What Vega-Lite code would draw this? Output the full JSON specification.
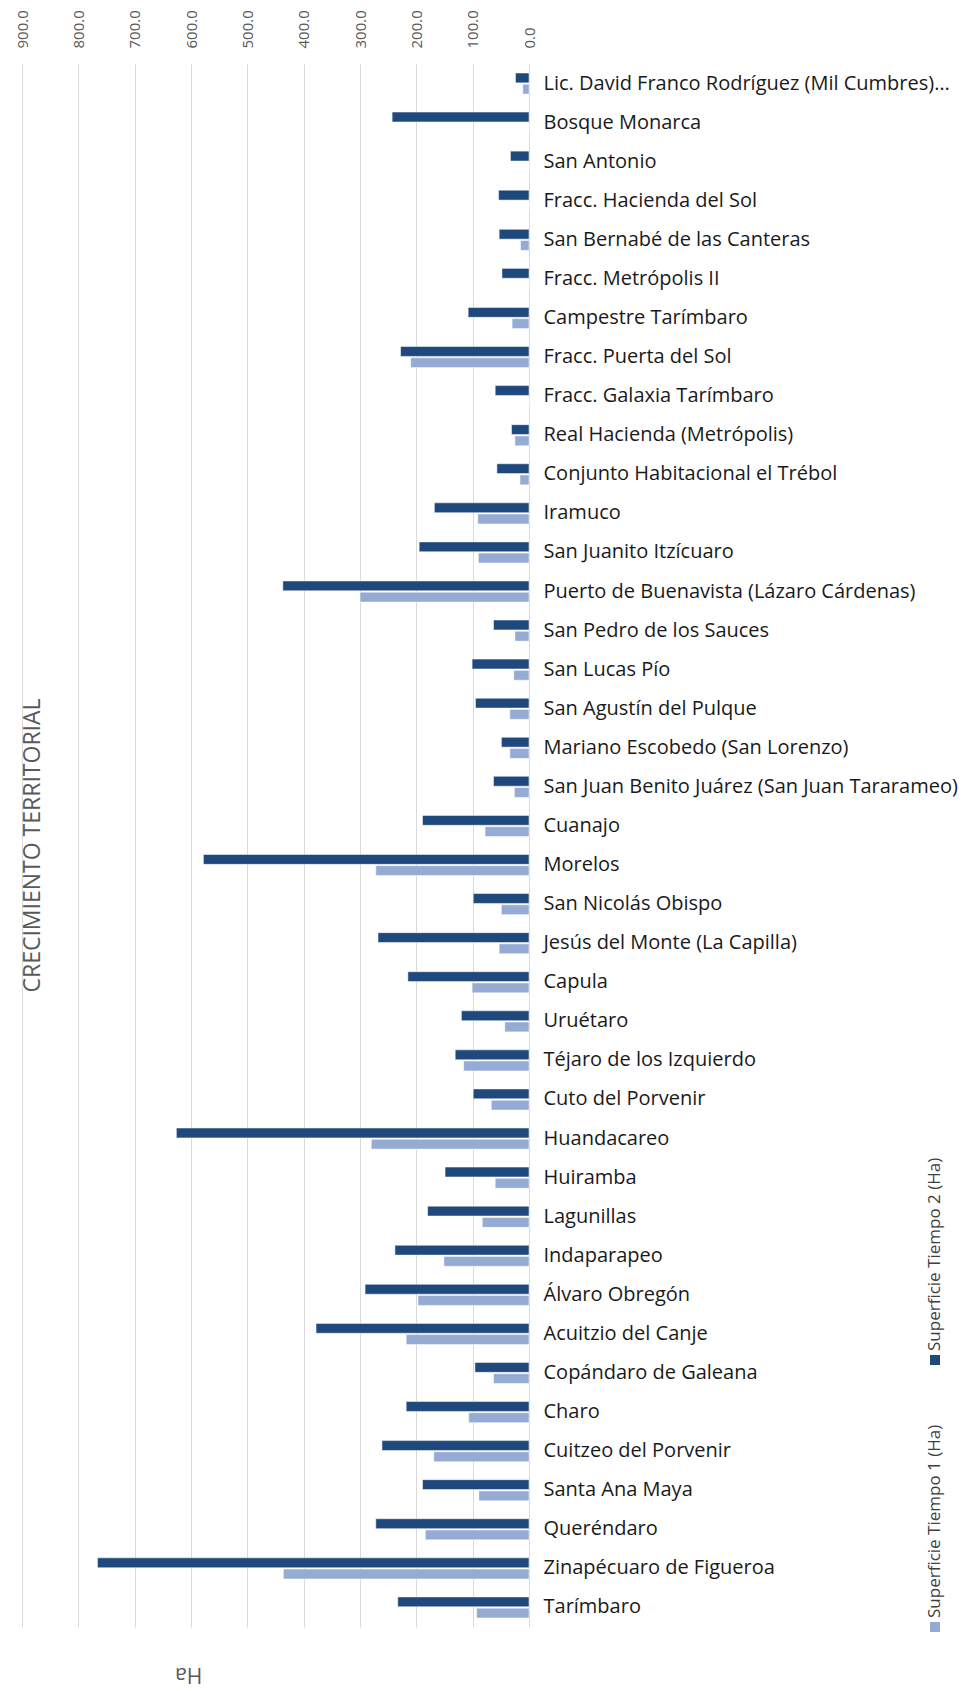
{
  "$schema": "https://vega.github.io/schema/vega-lite/v6.json",
  "background": "white",
  "padding": {"left": 14, "top": 9, "right": 0, "bottom": 4},
  "config": {"view": {"stroke": null}, "font": "Open Sans"},
  "bounds": "flush",
  "spacing": 399,
  "title": {"text": "Ha", "orient": "bottom", "anchor": "start", "angle": 180, "align": "right", "baseline": "middle", "offset": 42, "dx": -160, "fontSize": 21, "color": "#595959", "fontWeight": "normal"},
  "hconcat": [
    {
      "width": 507,
      "height": 1563,
      "title": {"text": "CRECIMIENTO TERRITORIAL", "orient": "left", "anchor": "middle", "offset": -30, "fontSize": 23, "fontWeight": "normal", "color": "#595959"},
      "data": {"values": [
        {"loc": "Lic. David Franco Rodríguez (Mil Cumbres)…", "t2": 24, "t1": 11},
        {"loc": "Bosque Monarca", "t2": 243, "t1": 0},
        {"loc": "San Antonio", "t2": 33, "t1": 0},
        {"loc": "Fracc. Hacienda del Sol", "t2": 54, "t1": 0},
        {"loc": "San Bernabé de las Canteras", "t2": 53, "t1": 15},
        {"loc": "Fracc. Metrópolis II", "t2": 48, "t1": 0},
        {"loc": "Campestre Tarímbaro", "t2": 108, "t1": 30},
        {"loc": "Fracc. Puerta del Sol", "t2": 228, "t1": 210},
        {"loc": "Fracc. Galaxia Tarímbaro", "t2": 60, "t1": 0},
        {"loc": "Real Hacienda (Metrópolis)", "t2": 31, "t1": 25},
        {"loc": "Conjunto Habitacional el Trébol", "t2": 57, "t1": 16},
        {"loc": "Iramuco", "t2": 168, "t1": 91},
        {"loc": "San Juanito Itzícuaro", "t2": 195, "t1": 90},
        {"loc": "Puerto de Buenavista (Lázaro Cárdenas)", "t2": 437, "t1": 300},
        {"loc": "San Pedro de los Sauces", "t2": 63, "t1": 25},
        {"loc": "San Lucas Pío", "t2": 101, "t1": 27},
        {"loc": "San Agustín del Pulque", "t2": 95, "t1": 34},
        {"loc": "Mariano Escobedo (San Lorenzo)", "t2": 49, "t1": 34},
        {"loc": "San Juan Benito Juárez (San Juan Tararameo)", "t2": 63, "t1": 26},
        {"loc": "Cuanajo", "t2": 189, "t1": 78},
        {"loc": "Morelos", "t2": 578, "t1": 272},
        {"loc": "San Nicolás Obispo", "t2": 99, "t1": 49},
        {"loc": "Jesús del Monte (La Capilla)", "t2": 268, "t1": 53},
        {"loc": "Capula", "t2": 215, "t1": 101},
        {"loc": "Uruétaro", "t2": 120, "t1": 43},
        {"loc": "Téjaro de los Izquierdo", "t2": 131, "t1": 116},
        {"loc": "Cuto del Porvenir", "t2": 99, "t1": 67},
        {"loc": "Huandacareo", "t2": 626, "t1": 280},
        {"loc": "Huiramba", "t2": 149, "t1": 60},
        {"loc": "Lagunillas", "t2": 180, "t1": 83},
        {"loc": "Indaparapeo", "t2": 238, "t1": 151},
        {"loc": "Álvaro Obregón", "t2": 291, "t1": 197},
        {"loc": "Acuitzio del Canje", "t2": 378, "t1": 218},
        {"loc": "Copándaro de Galeana", "t2": 96, "t1": 63},
        {"loc": "Charo", "t2": 218, "t1": 107},
        {"loc": "Cuitzeo del Porvenir", "t2": 261, "t1": 169},
        {"loc": "Santa Ana Maya", "t2": 189, "t1": 89},
        {"loc": "Queréndaro", "t2": 272, "t1": 184},
        {"loc": "Zinapécuaro de Figueroa", "t2": 766, "t1": 436},
        {"loc": "Tarímbaro", "t2": 233, "t1": 93}
      ]},
      "transform": [{"fold": ["t2", "t1"], "as": ["serie", "ha"]}],
      "mark": {"type": "bar", "stroke": "#ffffff", "strokeWidth": 0.5},
      "encoding": {
        "y": {"field": "loc", "type": "nominal", "sort": null,
          "scale": {"paddingInner": 0.46, "paddingOuter": 0.23},
          "axis": {"orient": "right", "title": null, "domain": false, "ticks": false, "grid": false, "labelPadding": 14, "labelFontSize": 20, "labelColor": "#1a1a1a", "labelLimit": 500}},
        "x": {"field": "ha", "type": "quantitative",
          "scale": {"domain": [0, 900], "reverse": true, "nice": false},
          "axis": {"orient": "top", "title": null, "values": [0, 100, 200, 300, 400, 500, 600, 700, 800, 900], "format": ".1f", "labelAngle": 270, "labelAlign": "left", "labelBaseline": "middle", "labelPadding": 16, "labelFontSize": 15, "labelColor": "#595959", "domain": false, "ticks": false, "grid": true, "gridColor": "#d9d9d9", "gridWidth": 1}},
        "yOffset": {"field": "serie", "type": "nominal", "sort": ["t2", "t1"], "scale": {"paddingInner": 0.12}},
        "color": {"field": "serie", "type": "nominal", "scale": {"domain": ["t1", "t2"], "range": ["#95abd3", "#1f497d"]}, "legend": null}
      }
    },
    {
      "width": 14,
      "height": 1563,
      "data": {"values": [
        {"serie": "t2", "label": "Superficie Tiempo 2 (Ha)"},
        {"serie": "t1", "label": "Superficie Tiempo 1 (Ha)"}
      ]},
      "encoding": {
        "y": {"field": "serie", "type": "nominal", "sort": ["t2", "t1"], "scale": {"type": "point", "padding": 0, "range": [1296, 1563]}, "axis": null}
      },
      "layer": [
        {"mark": {"type": "square", "size": 100, "opacity": 1, "filled": true},
         "encoding": {"color": {"field": "serie", "type": "nominal", "scale": {"domain": ["t1", "t2"], "range": ["#95abd3", "#1f497d"]}, "legend": null}}},
        {"mark": {"type": "text", "angle": 270, "align": "left", "baseline": "middle", "dx": 9, "fontSize": 17, "color": "#404040"},
         "encoding": {"text": {"field": "label"}}}
      ]
    }
  ]
}
